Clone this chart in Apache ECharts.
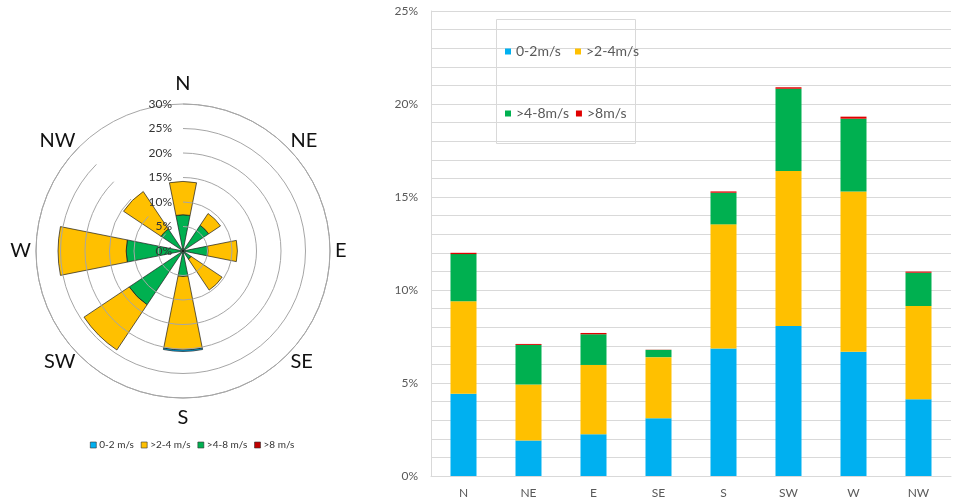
<!DOCTYPE html>
<html>
<head>
<meta charset="utf-8">
<script src="https://cdn.jsdelivr.net/npm/echarts@6/dist/echarts.min.js"></script>
<style>
html,body{margin:0;padding:0;background:#fff;}
#c{width:961px;height:502px;}
</style>
</head>
<body>
<div id="c"></div>
<script>
// ---- Wind rose (left) ----
const roseDirs = ['N','NE','E','SE','S','SW','W','NW'];
const roseTicks = ['0%','5%','10%','15%','20%','25%','30%'];
// radial segments as drawn, stacked from the centre outward (%)
const roseGreen  = [7.4, 6.3, 5.1, 2.0, 5.2, 13.2, 11.6, 5.4];
const roseYellow = [6.8, 2.9, 6.0, 7.6, 15.0, 11.1, 13.9, 9.2];
const roseBlue   = [0, 0, 0, 0, 0.3, 0, 0, 0];
const roseRed    = [0, 0, 0, 0, 0, 0, 0, 0];

// ---- Stacked bars (right) ----
const barCats = ['N','NE','E','SE','S','SW','W','NW'];
const bar0to2  = [4.42, 1.91, 2.25, 3.11, 6.85, 8.06, 6.68, 4.12];
const bar2to4  = [4.97, 3.01, 3.72, 3.28, 6.68, 8.34, 8.61, 5.02];
const bar4to8  = [2.54, 2.13, 1.65, 0.39, 1.70, 4.42, 3.92, 1.79];
const barOver8 = [0.07, 0.05, 0.07, 0.01, 0.07, 0.08, 0.11, 0.06];

const C_BLUE = '#00B0F0', C_YEL = '#FFC000', C_GRN = '#00B050', C_RED = '#C00000';
const FONT = 'Lato, "Open Sans", sans-serif';

const roseItem = (c) => ({color: c, borderColor: '#1a1a1a', borderWidth: 0.7});
const noZero = (arr) => arr.map(v => v === 0 ? '-' : v);
// per-direction label line heights (vertical label offset tuning)
const dirLabelLH = {N: 30, S: 30, NE: 6, SE: 6, SW: 6, NW: 6, E: 20, W: 20};
const roseDirData = roseDirs.map(d => ({value: d, textStyle: {lineHeight: dirLabelLH[d]}}));

const chart = echarts.init(document.getElementById('c'), null, {renderer: 'canvas'});
chart.setOption({
  animation: false,
  backgroundColor: '#fff',
  polar: {center: [183, 251], radius: 147},
  angleAxis: {
    type: 'category', data: roseDirData, boundaryGap: false, startAngle: 90, clockwise: true,
    axisLine: {show: false},
    axisTick: {show: false},
    splitLine: {show: false},
    axisLabel: {fontFamily: FONT, fontSize: 20, color: '#111', margin: 5}
  },
  radiusAxis: {
    type: 'value', min: 0, max: 30, interval: 5,
    axisLine: {show: false}, axisTick: {show: false},
    axisLabel: {fontFamily: FONT, fontSize: 12, color: '#333', margin: 11, formatter: (v) => roseTicks[v / 5]},
    splitLine: {show: true, lineStyle: {color: '#A6A6A6', width: 1}},
    z: 10
  },
  grid: {left: 431, right: 10, top: 11, bottom: 26},
  xAxis: {
    type: 'category', data: barCats,
    axisLine: {lineStyle: {color: '#D9D9D9'}}, axisTick: {show: false},
    axisLabel: {fontFamily: FONT, fontSize: 12, color: '#595959', margin: 11}
  },
  yAxis: {
    type: 'value', min: 0, max: 25, interval: 5,
    axisLine: {show: true, lineStyle: {color: '#D9D9D9'}}, axisTick: {show: false},
    axisLabel: {fontFamily: FONT, fontSize: 12, color: '#595959', margin: 13, formatter: '{value}%'},
    splitLine: {lineStyle: {color: '#D9D9D9'}},
    minorTick: {show: false, splitNumber: 5},
    minorSplitLine: {show: true, lineStyle: {color: '#D9D9D9'}}
  },
  legend: [
    {
      data: ['0-2 m/s', '>2-4 m/s', '>4-8 m/s', '>8 m/s'],
      left: 85, top: 435, itemWidth: 6, itemHeight: 6, itemGap: 7,
      icon: 'rect',
      itemStyle: {borderColor: '#333', borderWidth: 0.6},
      textStyle: {fontFamily: FONT, fontSize: 10, color: '#333', padding: [0, 0, 0, -2]}
    },
    {
      data: ['0-2m/s', '>2-4m/s', '>4-8m/s', '>8m/s'],
      left: 500, top: 19, width: 140, itemWidth: 6, itemHeight: 6, itemGap: 7,
      icon: 'rect', orient: 'horizontal',
      textStyle: {fontFamily: FONT, fontSize: 14, color: '#595959', lineHeight: 55, width: 52}
    }
  ],
  graphic: [
    {
      type: 'circle', z: 1, silent: true,
      shape: {cx: 183, cy: 251, r: 147},
      style: {fill: null, stroke: '#A6A6A6', lineWidth: 1}
    },
    {
      type: 'rect', left: 496, top: 19, z: -1,
      shape: {width: 139, height: 124},
      style: {fill: '#fff', stroke: '#D9D9D9', lineWidth: 1}
    }
  ],
  series: [
    {name: '>4-8 m/s', type: 'bar', coordinateSystem: 'polar', stack: 'rose', barWidth: '50%', data: noZero(roseGreen), itemStyle: roseItem(C_GRN)},
    {name: '>2-4 m/s', type: 'bar', coordinateSystem: 'polar', stack: 'rose', barWidth: '50%', data: noZero(roseYellow), itemStyle: roseItem(C_YEL)},
    {name: '0-2 m/s', type: 'bar', coordinateSystem: 'polar', stack: 'rose', barWidth: '50%', data: noZero(roseBlue), itemStyle: roseItem(C_BLUE)},
    {name: '>8 m/s', type: 'bar', coordinateSystem: 'polar', stack: 'rose', barWidth: '50%', data: noZero(roseRed), itemStyle: roseItem(C_RED)},
    {name: '0-2m/s', type: 'bar', stack: 'b', barWidth: 26, data: bar0to2, itemStyle: {color: C_BLUE}},
    {name: '>2-4m/s', type: 'bar', stack: 'b', barWidth: 26, data: bar2to4, itemStyle: {color: C_YEL}},
    {name: '>4-8m/s', type: 'bar', stack: 'b', barWidth: 26, data: bar4to8, itemStyle: {color: C_GRN}},
    {name: '>8m/s', type: 'bar', stack: 'b', barWidth: 26, data: barOver8, itemStyle: {color: '#E00000'}}
  ]
});
</script>
</body>
</html>
